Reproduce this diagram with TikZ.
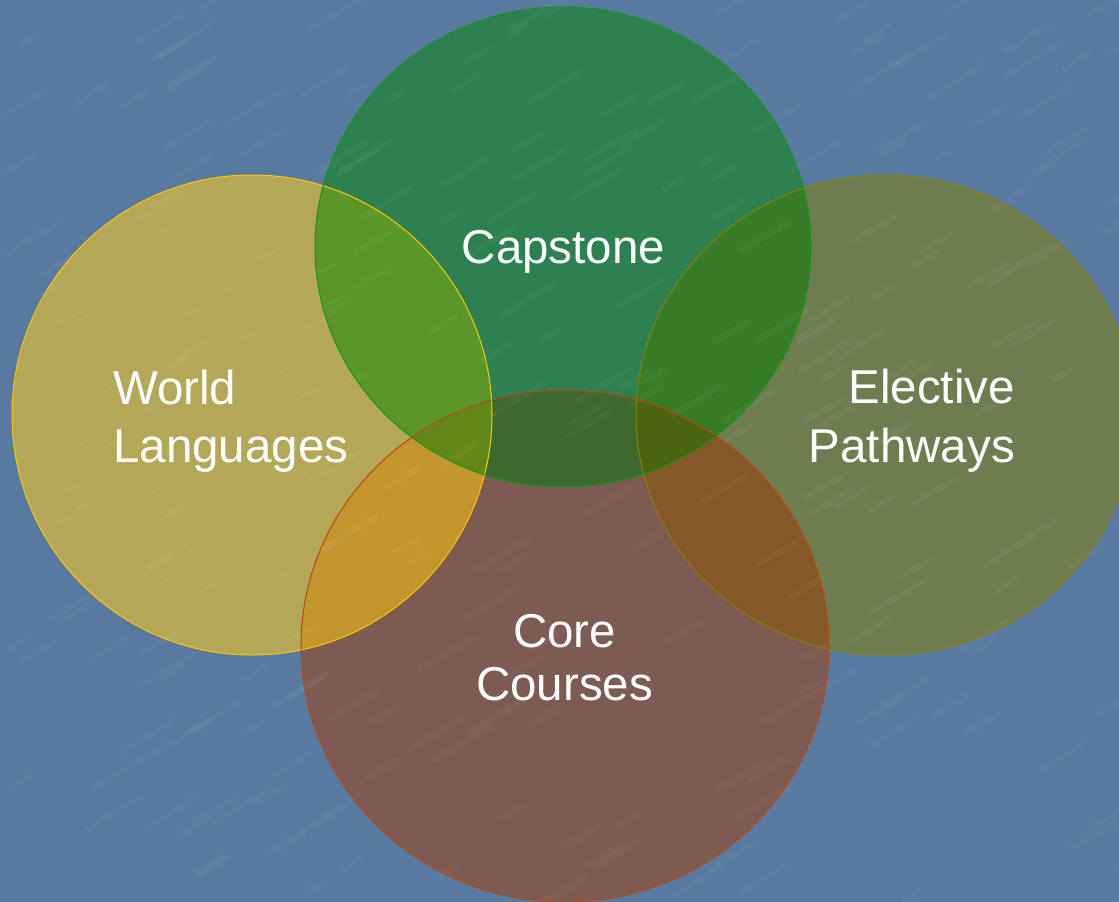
\documentclass[tikz,border=0pt]{standalone}
\usepackage{fontspec}
\setmainfont{Liberation Sans}
\definecolor{bgblue}{RGB}{88,122,160}
\definecolor{cG}{RGB}{45,128,80}
\definecolor{cY}{RGB}{180,168,88}
\definecolor{cO}{RGB}{110,125,80}
\definecolor{cB}{RGB}{125,90,82}
\definecolor{cGY}{RGB}{90,150,40}
\definecolor{cGO}{RGB}{55,125,40}
\definecolor{cGB}{RGB}{60,105,45}
\definecolor{cYB}{RGB}{195,150,45}
\definecolor{cOB}{RGB}{132,88,40}
\definecolor{cGYB}{RGB}{100,135,25}
\definecolor{cGOB}{RGB}{75,100,15}
\definecolor{eG}{RGB}{20,150,20}
\definecolor{eY}{RGB}{255,200,0}
\definecolor{eO}{RGB}{140,130,0}
\definecolor{eB}{RGB}{190,70,10}
\tikzset{
  lbl/.style={text=white, inner sep=0pt, font=\fontsize{47.5}{56}\selectfont},
  rim/.style={line width=1pt},
  streak/.style={white, opacity=0.035, line width=6pt, line cap=round}
}
\def\pG{(563,247) ellipse [x radius=248pt, y radius=240pt]}
\def\pY{(252,415) ellipse [x radius=240pt, y radius=240pt]}
\def\pO{(885,415) ellipse [x radius=249pt, y radius=240pt]}
\def\pB{(565,646) ellipse [x radius=264pt, y radius=256pt]}
\begin{document}
\begin{tikzpicture}[x=1pt,y=-1pt]
\useasboundingbox (0,0) rectangle (1119,902);
\fill[bgblue] (0,0) rectangle (1119,902);
% pure fills
\fill[cY] \pY;
\fill[cO] \pO;
\fill[cG] \pG;
\fill[cB] \pB;
% pairwise overlaps
\begin{scope}\clip \pG; \fill[cGY] \pY; \fill[cGO] \pO; \fill[cGB] \pB; \end{scope}
\begin{scope}\clip \pB; \fill[cYB] \pY; \fill[cOB] \pO; \end{scope}
% triple overlaps
\begin{scope}\clip \pG; \clip \pB; \fill[cGYB] \pY; \end{scope}
\begin{scope}\clip \pG; \clip \pB; \fill[cGOB] \pO; \end{scope}
% texture
\pgfmathsetseed{7}
\foreach \i in {1,...,260}{
  \pgfmathsetmacro{\sx}{rnd*1119}
  \pgfmathsetmacro{\sy}{rnd*902}
  \pgfmathsetmacro{\sl}{15+rnd*40}
  \draw[streak] (\sx,\sy) -- ++(\sl,-0.6*\sl);
}
% rims
\draw[rim, eY] \pY;
\draw[rim, eO] \pO;
\draw[rim, eB] \pB;
\draw[rim, eG] \pG;
% labels
\node[lbl, anchor=base] (cap) at (563.5,263) {Capstone};
\node[lbl, anchor=base west] (wl1) at (113,404) {World};
\node[lbl, anchor=base west] (wl2) at (113,462) {Languages};
\node[lbl, anchor=base east] (ep1) at (1015,403) {Elective};
\node[lbl, anchor=base east] (ep2) at (1015,462) {Pathways};
\node[lbl, anchor=base] (cc1) at (564.5,647) {Core};
\node[lbl, anchor=base] (cc2) at (564.5,700) {Courses};
\end{tikzpicture}
\end{document}
